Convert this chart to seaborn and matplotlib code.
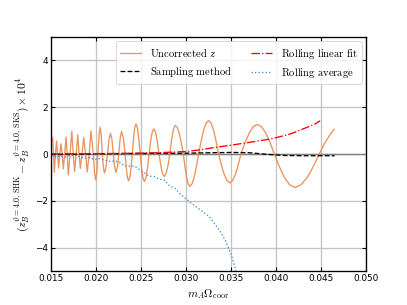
import matplotlib
matplotlib.use("Agg")
import matplotlib.pyplot as plt
import pandas as pd
import seaborn as sns

# Uncorrected z
unc_x = [0.01500, 0.01518, 0.01528, 0.01537, 0.01550, 0.01562, 0.01573, 0.01584, 0.01598, 0.01611,
         0.01624, 0.01637, 0.01652, 0.01667, 0.01680, 0.01692, 0.01712, 0.01731, 0.01747, 0.01762,
         0.01780, 0.01798, 0.01812, 0.01826, 0.01845, 0.01864, 0.01884, 0.01903, 0.01924, 0.01944,
         0.01970, 0.01983, 0.01996, 0.02009, 0.02021, 0.02034, 0.02046, 0.02058, 0.02070, 0.02082,
         0.02094, 0.02111, 0.02128, 0.02145, 0.02161, 0.02177, 0.02192, 0.02207, 0.02222, 0.02238,
         0.02253, 0.02269, 0.02284, 0.02304, 0.02323, 0.02336, 0.02349, 0.02362, 0.02376, 0.02390,
         0.02403, 0.02417, 0.02430, 0.02444, 0.02460, 0.02475, 0.02491, 0.02506, 0.02522, 0.02537,
         0.02555, 0.02572, 0.02590, 0.02607, 0.02625, 0.02642, 0.02661, 0.02681, 0.02700, 0.02720,
         0.02739, 0.02759, 0.02779, 0.02800, 0.02820, 0.02840, 0.02861, 0.02881, 0.02903, 0.02926,
         0.02948, 0.02970, 0.02988, 0.03006, 0.03024, 0.03042, 0.03067, 0.03091, 0.03116, 0.03140,
         0.03168, 0.03196, 0.03223, 0.03251, 0.03279, 0.03307, 0.03334, 0.03362, 0.03393, 0.03425,
         0.03456, 0.03487, 0.03518, 0.03549, 0.03580, 0.03611, 0.03656, 0.03702, 0.03747, 0.03792,
         0.03839, 0.03887, 0.03934, 0.03981, 0.04038, 0.04095, 0.04152, 0.04209, 0.04277, 0.04345,
         0.04413, 0.04481, 0.04540, 0.04600, 0.04648]
unc_y = [0.40, 0.70, 0.0, -0.79, 0.0, 0.55, 0.0, -0.60, 0.0, 0.43,
         0.0, -0.64, 0.0, 0.72, 0.0, -0.90, 0.0, 0.96, 0.0, -0.75,
         0.0, 0.81, 0.0, -0.62, 0.0, 0.70, 0.0, -0.77, 0.0, 0.98,
         0.0, -0.79, -1.11, -0.79, 0.0, 0.81, 1.14, 0.81, 0.0, -0.58,
         -0.82, -0.58, 0.0, 0.62, 0.88, 0.62, 0.0, -0.56, -0.79, -0.56,
         0.0, 0.68, 0.96, 0.68, 0.0, -0.58, -1.00, -1.15, -1.00, -0.58,
         0.0, 0.64, 1.11, 1.28, 1.11, 0.64, 0.0, -0.59, -1.03, -1.18,
         -1.03, -0.59, 0.0, 0.54, 0.93, 1.07, 0.93, 0.54, 0.0, -0.49,
         -0.84, -0.97, -0.84, -0.49, 0.0, 0.61, 1.06, 1.22, 1.13, 0.86,
         0.46, 0.0, -0.53, -0.99, -1.28, -1.39, -1.28, -0.99, -0.53, 0.0,
         0.54, 1.01, 1.31, 1.42, 1.31, 1.01, 0.54, 0.0, -0.47, -0.88,
         -1.14, -1.24, -1.14, -0.88, -0.47, 0.0, 0.48, 0.89, 1.16, 1.26,
         1.16, 0.89, 0.48, 0.0, -0.55, -1.02, -1.32, -1.44, -1.32, -1.02,
         -0.55, 0.0, 0.45, 0.82, 1.05]

# Sampling method
samp_x = [0.0150, 0.0200, 0.0250, 0.0300, 0.0330, 0.0350, 0.0370, 0.0390, 0.0410, 0.0430, 0.0450, 0.0465]
samp_y = [-0.03, 0.00, 0.02, 0.03, 0.05, 0.06, 0.05, -0.02, -0.07, -0.08, -0.08, -0.08]

# Rolling linear fit
fit_x = [0.0150, 0.0200, 0.0250, 0.0270, 0.0300, 0.0315, 0.0330, 0.0350, 0.0370, 0.0390, 0.0400,
         0.0415, 0.0426, 0.0443, 0.0449]
fit_y = [0.00, 0.01, 0.03, 0.05, 0.10, 0.17, 0.26, 0.37, 0.49, 0.61, 0.69, 0.84, 1.00, 1.27, 1.41]

# Rolling average
avg_x = [0.01500, 0.01548, 0.01592, 0.01648, 0.01703, 0.01759, 0.01814, 0.01870, 0.01926, 0.01981,
         0.02037, 0.02092, 0.02148, 0.02203, 0.02259, 0.02314, 0.02370, 0.02426, 0.02500, 0.02592,
         0.02648, 0.02703, 0.02759, 0.02814, 0.02889, 0.02926, 0.03037, 0.03148, 0.03259, 0.03370,
         0.03437, 0.03481, 0.03514, 0.03559]
avg_y = [-0.08, -0.12, -0.10, -0.14, -0.08, -0.05, -0.12, -0.18, -0.16, -0.24,
         -0.20, -0.26, -0.32, -0.30, -0.36, -0.50, -0.52, -0.52, -0.72, -0.95,
         -0.97, -1.08, -1.12, -1.35, -1.50, -1.68, -2.04, -2.36, -2.68, -3.25,
         -3.70, -4.10, -4.45, -5.05]

sns.set_style("ticks")
plt.rcParams["mathtext.fontset"] = "cm"
plt.rcParams["font.family"] = ["DejaVu Sans"]
plt.rcParams["text.color"] = "black"
plt.rcParams["axes.labelcolor"] = "black"
plt.rcParams["xtick.color"] = "black"
plt.rcParams["ytick.color"] = "black"

fig = plt.figure(figsize=(6.4, 4.8), dpi=407 / 6.4)
ax = fig.add_axes([0.1253, 0.1115, 0.774, 0.7672])

ax.grid(True, color="#c4c4c4", lw=1.5, zorder=0)
ax.axhline(0, color="gray", lw=1.6, zorder=1)

sns.lineplot(x=unc_x, y=unc_y, ax=ax, color="#e8884d", lw=1.5, alpha=0.9,
             label=r"$\mathrm{Uncorrected}\ z$", estimator=None, sort=False)
sns.lineplot(x=samp_x, y=samp_y, ax=ax, color="k", lw=1.5, ls="--",
             label=r"$\mathrm{Sampling\ method}$", estimator=None, sort=False)
sns.lineplot(x=fit_x, y=fit_y, ax=ax, color="red", lw=1.5, ls="-.",
             label=r"$\mathrm{Rolling\ linear\ fit}$", estimator=None, sort=False)
sns.lineplot(x=avg_x, y=avg_y, ax=ax, color="#3a8fd4", lw=1.5, ls=":",
             label=r"$\mathrm{Rolling\ average}$", estimator=None, sort=False)

ax.set_xlim(0.015, 0.050)
ax.set_ylim(-5, 5)
ax.set_xticks([0.015, 0.020, 0.025, 0.030, 0.035, 0.040, 0.045, 0.050])
ax.set_xticklabels(["0.015", "0.020", "0.025", "0.030", "0.035", "0.040", "0.045", "0.050"])
ax.set_yticks([-4, -2, 0, 2, 4])
ax.set_yticklabels(["\u22124", "\u22122", "0", "2", "4"])
ax.tick_params(direction="in", top=True, right=True, labelsize=10, length=5, width=1.2)
for s in ax.spines.values():
    s.set_linewidth(1.5)
    s.set_color("black")

ax.set_xlabel(r"$m_A\Omega_{\rm coor}$", fontsize=13)
ax.set_ylabel(r"$(z_B^{\vartheta=4.0,\,\mathrm{SHK}} - z_B^{\vartheta=4.0,\,\mathrm{SKS}})\times 10^4$",
              fontsize=13)

ax.legend(loc="upper right", ncol=2, fontsize=12, framealpha=0.8, edgecolor="#cccccc",
          handlelength=2.0, borderaxespad=0.4, columnspacing=1.8)

fig.savefig("out.png", dpi=407 / 6.4)
